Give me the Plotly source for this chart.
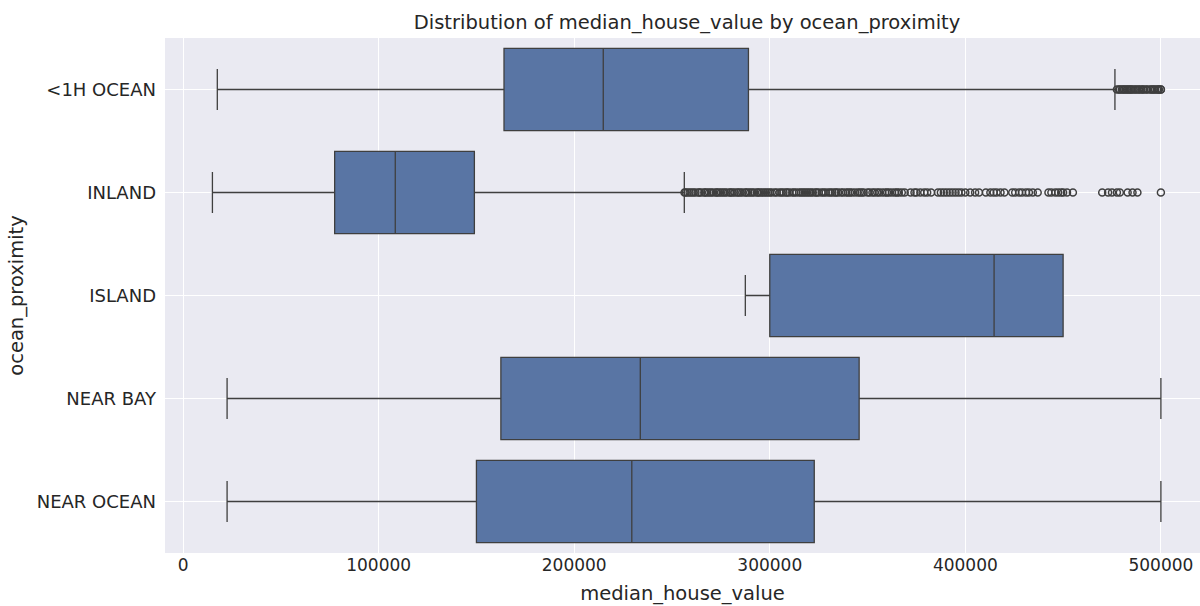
import plotly.graph_objects as go

# Summary statistics of median_house_value per ocean_proximity group
categories = ["<1H OCEAN", "INLAND", "ISLAND", "NEAR BAY", "NEAR OCEAN"]
q1 = [164100, 77500, 300000, 162500, 150000]
median = [214850, 108500, 414700, 233800, 229450]
q3 = [289100, 148950, 450000, 345700, 322750]
lower_whisker = [17500, 14999, 287500, 22500, 22500]
upper_whisker = [476500, 256300, 450000, 500001, 500001]

# Points beyond 1.5 * IQR
outliers_1h_ocean = [
    477500, 478600, 479000, 480000, 480600, 481300, 482000, 482700, 483300,
    484000, 484700, 485000, 486000, 486800, 487500, 488500, 489000, 490000,
    490800, 491200, 492500, 493000, 494400, 495000, 495800, 496400, 497000,
    498000, 498600, 499000, 500000, 500001,
]
outliers_inland = [
    256400, 257000, 258000, 259000, 260000, 261000, 262000, 263500, 264000,
    265000, 266500, 267000, 268000, 269000, 270000, 271000, 272500, 273000,
    274000, 275000, 276000, 277000, 278000, 279500, 280000, 281000, 282000,
    283300, 284000, 285000, 286000, 287500, 288000, 289000, 290000, 291000,
    292000, 293500, 294000, 295000, 296000, 297000, 298000, 299000, 300000,
    301000, 302500, 303500, 305000, 306000, 307000, 308300, 309000, 310000,
    311500, 312500, 313600, 315000, 316000, 317000, 318000, 319000, 320000,
    321000, 322000, 323400, 324000, 325000, 326500, 327500, 328600, 330000,
    331000, 332000, 333300, 334000, 335000, 336500, 337500, 339000, 340000,
    341000, 342000, 343500, 345000, 346000, 347000, 348000, 350000, 351000,
    352500, 353600, 355000, 356000, 357500, 359000, 360000, 361000, 362500,
    364000, 365000, 366000, 367500, 369000, 372000, 374000, 375000, 377000,
    379000, 380500, 382500, 386000, 387500, 389000, 390500, 392000, 393500,
    395000, 396500, 398000, 400000, 402500, 405000, 407000, 410500, 412800,
    414500, 416000, 418000, 420000, 424000, 425500, 427500, 429000, 431000,
    432500, 434500, 437000, 442500, 444000, 446000, 447500, 449000, 450000,
    452000, 455000, 470000, 473000, 475000, 477500, 479000, 483000, 485500,
    488000, 500001,
]

outlier_groups = {
    "<1H OCEAN": outliers_1h_ocean,
    "INLAND": outliers_inland,
}

box_fill = "#5975a4"
line_gray = "#3f3f3f"
text_gray = "#262626"
font_family = "DejaVu Sans"

fig = go.Figure()

fig.add_trace(go.Box(
    y=categories,
    q1=q1,
    median=median,
    q3=q3,
    lowerfence=lower_whisker,
    upperfence=upper_whisker,
    orientation="h",
    boxpoints=False,
    fillcolor=box_fill,
    line=dict(color=line_gray, width=1.3),
    width=0.8,
    whiskerwidth=0.5,
    showlegend=False,
    hoverinfo="x+y",
))

for cat, vals in outlier_groups.items():
    fig.add_trace(go.Scatter(
        x=vals,
        y=[cat] * len(vals),
        mode="markers",
        marker=dict(symbol="circle-open", size=7, color=line_gray,
                    line=dict(width=1.5, color=line_gray)),
        showlegend=False,
        hoverinfo="x",
    ))

fig.update_layout(
    width=1200,
    height=606,
    margin=dict(l=165, r=0, t=38, b=53),
    paper_bgcolor="white",
    plot_bgcolor="#eaeaf2",
    font=dict(family=font_family, size=17, color=text_gray),
    title=dict(
        text="Distribution of median_house_value by ocean_proximity",
        x=687 / 1200, xref="container", xanchor="center",
        y=1 - 22 / 606, yref="container", yanchor="middle",
        font=dict(size=19.5, color=text_gray, family=font_family),
    ),
    xaxis=dict(
        range=[-9251, 520000],
        tickvals=[0, 100000, 200000, 300000, 400000, 500000],
        ticktext=["0", "100000", "200000", "300000", "400000", "500000"],
        showgrid=True, gridcolor="white", gridwidth=1.3,
        zeroline=False, showline=False, ticks="",
        tickfont=dict(size=17, color=text_gray),
        title=dict(text="median_house_value", font=dict(size=19.5, color=text_gray),
                   standoff=12),
    ),
    yaxis=dict(
        type="category",
        categoryorder="array",
        categoryarray=categories,
        range=[4.5, -0.5],
        showgrid=True, gridcolor="white", gridwidth=1.3,
        zeroline=False, showline=False, ticks="",
        ticklabelstandoff=8,
        tickfont=dict(size=18, color=text_gray),
        title=dict(text="ocean_proximity", font=dict(size=19.5, color=text_gray),
                   standoff=7),
    ),
)

fig.write_html("out.html")
